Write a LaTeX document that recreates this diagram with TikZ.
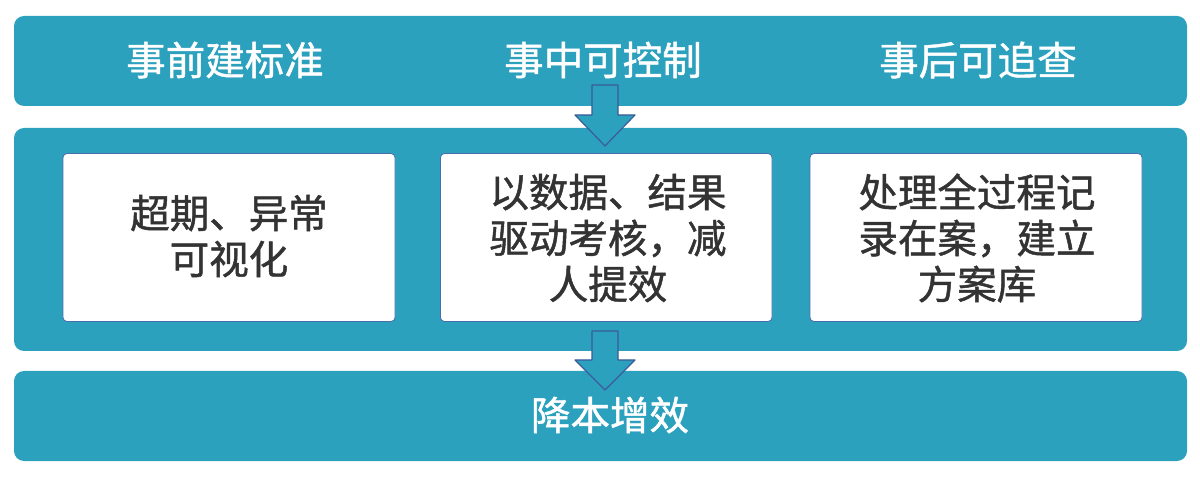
\documentclass[tikz,border=0pt]{standalone}
\usepackage{fontspec}
\newfontfamily\cjk[FakeBold=1.2]{Noto Sans CJK SC}
\definecolor{teal1}{HTML}{2CA1BE}
\definecolor{txtgray}{HTML}{333333}
\definecolor{boxline}{HTML}{4A6DAA}
\definecolor{arrline}{HTML}{3B5B9A}
\tikzset{
  band/.style={fill=teal1, draw=none, rounded corners=10pt},
  inbox/.style={fill=white, draw=boxline, line width=0.8pt, rounded corners=4pt},
  headtxt/.style={text=white, font=\cjk\fontsize{39.5}{46}\selectfont, inner sep=0pt},
  boxtxt/.style={text=txtgray, font=\cjk\fontsize{39.5}{46}\selectfont, align=center, inner sep=0pt},
  blockarrow/.style={fill=teal1, draw=arrline, line width=1.2pt, line join=round},
}
\begin{document}
\begin{tikzpicture}[x=1pt,y=-1pt]
\useasboundingbox (0,0) rectangle (1200,478);
% bands
\path[band] (14,16) rectangle (1187,106);
\path[band] (14,128) rectangle (1187,351);
\path[band] (14,371) rectangle (1187,461);
% inner boxes
\path[inbox] (63,153.5) rectangle (395,321.5);
\path[inbox] (440.5,153.5) rectangle (772,321.5);
\path[inbox] (810,153.5) rectangle (1142,321.5);
% top labels
\node[headtxt] (h1) at (225,60) {事前建标准};
\node[headtxt] (h2) at (603,60) {事中可控制};
\node[headtxt] (h3) at (978,60) {事后可追查};
% box texts
\node[boxtxt] (b1) at (229,236) {超期、异常\\可视化};
\node[boxtxt] (b2) at (608,238) {以数据、结果\\驱动考核，减\\人提效};
\node[boxtxt] (b3) at (977,238) {处理全过程记\\录在案，建立\\方案库};
% bottom label
\node[headtxt] (res) at (610,415) {降本增效};
% block arrows
\draw[blockarrow] (592,85) -- (618,85) -- (618,115) -- (635,115) -- (605,146) -- (575,115) -- (592,115) -- cycle;
\draw[blockarrow] (592,331) -- (618,331) -- (618,360) -- (635,360) -- (605,390) -- (575,360) -- (592,360) -- cycle;
\end{tikzpicture}
\end{document}
